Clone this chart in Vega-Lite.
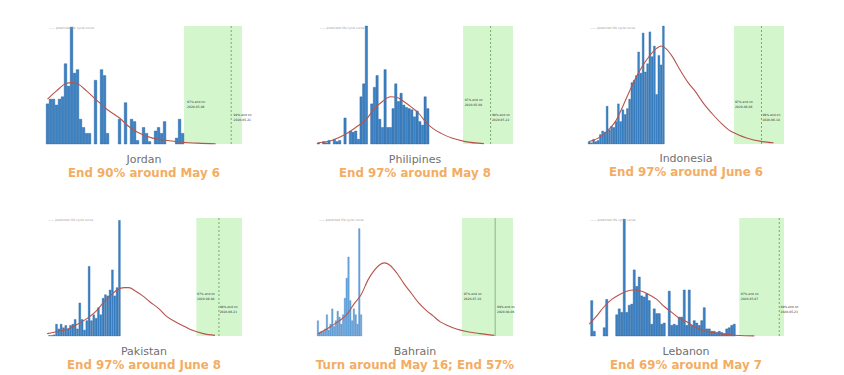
{
"$schema":"https://vega.github.io/schema/vega-lite/v6.json",
"background":"white",
"padding":{"left":44,"top":25,"right":0,"bottom":0},
"bounds":"flush",
"spacing":192,
"config":{
 "view":{"stroke":null},
 "font":"DejaVu Sans",
 "scale":{"continuousPadding":0},
 "title":{"orient":"bottom","anchor":"middle","offset":8,"fontSize":11,"fontWeight":"normal","color":"#707070","subtitleFontSize":11.8,"subtitleFontWeight":"bold","subtitleColor":"#f3ad63","subtitlePadding":3,"font":"DejaVu Sans","subtitleFont":"DejaVu Sans"},
 "axisY":{"labelFontSize":3.5,"titleFontSize":3.5,"titleFontWeight":"normal","tickSize":2,"tickWidth":0.5,"domainColor":"#bbbbbb","domainWidth":0.6,"tickColor":"#aaaaaa","labelColor":"#666666","titleColor":"#666666","labelPadding":1,"titlePadding":2,"grid":false},
 "axisX":{"labels":false,"ticks":false,"domain":false,"grid":true,"gridColor":"#ececec","gridWidth":0.7,"tickCount":5},
 "rect":{"color":"#d3f6cd"},
 "rule":{"color":"#5b9b57","strokeDash":[2,2],"strokeWidth":0.8},
 "line":{"interpolate":"monotone","color":"#b8544c","strokeWidth":1.1},
 "bar":{"color":"#3b82c4","stroke":"#1f5c9a","strokeWidth":0.4},
 "text":{"fontSize":3,"align":"left","color":"#333333"}
},
"vconcat":[
{"hconcat":[
{"width":196,"height":118,
 "title":{"text":"Jordan","subtitle":"End 90% around May 6"},
 "layer":[
  {"data":{"values":[{"d":45.5,"d2":64.8}]},"mark":"rect","encoding":{"x":{"field":"d","type":"quantitative","scale":{"domain":[-0.5,64.8],"nice":false,"zero":false,"padding":0},"axis":null},"x2":{"field":"d2"}}},
  {"data":{"values":[{"d":61.2}]},"mark":"rule","encoding":{"x":{"field":"d","type":"quantitative","axis":null}}},
  {"data":{"values":[{"d":0,"v":34},{"d":1,"v":38},{"d":2,"v":38},{"d":3,"v":33},{"d":4,"v":38},{"d":5,"v":40},{"d":6,"v":68},{"d":7,"v":49},{"d":8,"v":99},{"d":9,"v":60},{"d":10,"v":63},{"d":11,"v":21},{"d":12,"v":14},{"d":13,"v":9},{"d":14,"v":9},{"d":16,"v":54},{"d":18,"v":63},{"d":19,"v":58},{"d":20,"v":9},{"d":24,"v":21},{"d":26,"v":35},{"d":28,"v":21},{"d":29,"v":19},{"d":30,"v":3},{"d":32,"v":14},{"d":33,"v":9},{"d":34,"v":2},{"d":36,"v":11},{"d":37,"v":14},{"d":38,"v":9},{"d":39,"v":19},{"d":43,"v":5},{"d":44,"v":21},{"d":45,"v":9}]},"mark":{"type":"bar","width":2.6},
   "encoding":{"x":{"field":"d","type":"quantitative","scale":{"padding":0},"axis":{"title":null}},"y":{"field":"v","type":"quantitative","scale":{"domain":[0,100],"nice":false},"axis":{"title":"New Cases","values":[13.4,26.8,40.2,53.6,67,80.4,93.8],"labelExpr":"format(round(datum.value/13.4)*5,'d')"}}}},
  {"data":{"values":[{"d":0,"v":38},{"d":3,"v":45},{"d":6,"v":51},{"d":8,"v":52},{"d":10,"v":51},{"d":13,"v":45},{"d":16,"v":38},{"d":20,"v":29},{"d":24,"v":22},{"d":27,"v":15},{"d":30,"v":10},{"d":35,"v":5},{"d":40,"v":3},{"d":45,"v":1.5},{"d":50,"v":0.7},{"d":56,"v":0.2}]},"mark":"line","encoding":{"x":{"field":"d","type":"quantitative","axis":null},"y":{"field":"v","type":"quantitative","axis":null}}},
  {"data":{"values":[{"d":46.5,"v":36,"label":["97% end on","2020-05-06"]},{"d":62,"v":25,"label":["99% end on","2020-05-21"]}]},"mark":"text","encoding":{"x":{"field":"d","type":"quantitative","axis":null},"y":{"field":"v","type":"quantitative","axis":null},"text":{"field":"label"}}},
  {"data":{"values":[{"label":"—— predicted life cycle curve"}]},"mark":{"type":"text","baseline":"top","color":"#999999"},"encoding":{"x":{"datum":0.5,"axis":null},"y":{"datum":99.5,"axis":null},"text":{"field":"label"}}}
 ]},
{"width":196,"height":118,
 "title":{"text":"Philipines","subtitle":"End 97% around May 8"},
 "layer":[
  {"data":{"values":[{"d":54.2,"d2":72.9}]},"mark":"rect","encoding":{"x":{"field":"d","type":"quantitative","scale":{"domain":[-0.5,72.9],"nice":false,"zero":false,"padding":0},"axis":null},"x2":{"field":"d2"}}},
  {"data":{"values":[{"d":64.5}]},"mark":"rule","encoding":{"x":{"field":"d","type":"quantitative","axis":null}}},
  {"data":{"values":[{"d":0,"v":1},{"d":2,"v":2},{"d":3,"v":1},{"d":4,"v":3},{"d":6,"v":4},{"d":7,"v":2},{"d":8,"v":3},{"d":10,"v":22},{"d":12,"v":11},{"d":13,"v":10},{"d":14,"v":11},{"d":15,"v":4},{"d":16,"v":40},{"d":17,"v":51},{"d":18,"v":100},{"d":20,"v":34},{"d":21,"v":48},{"d":22,"v":58},{"d":23,"v":21},{"d":24,"v":14},{"d":25,"v":63},{"d":26,"v":14},{"d":27,"v":14},{"d":28,"v":30},{"d":29,"v":51},{"d":30,"v":36},{"d":31,"v":43},{"d":32,"v":33},{"d":33,"v":31},{"d":34,"v":30},{"d":35,"v":29},{"d":36,"v":23},{"d":37,"v":28},{"d":38,"v":19},{"d":39,"v":16},{"d":40,"v":40},{"d":41,"v":30}]},"mark":{"type":"bar","width":2.3},
   "encoding":{"x":{"field":"d","type":"quantitative","scale":{"padding":0},"axis":{"title":null}},"y":{"field":"v","type":"quantitative","scale":{"domain":[0,100],"nice":false},"axis":{"title":"New Cases","values":[15.3,30.6,45.9,61.2,76.5,91.8],"labelExpr":"format(round(datum.value/15.3)*100,'d')"}}}},
  {"data":{"values":[{"d":0,"v":1},{"d":5,"v":3},{"d":10,"v":8},{"d":14,"v":14},{"d":18,"v":21},{"d":21,"v":30},{"d":24,"v":36},{"d":27,"v":40},{"d":30,"v":39},{"d":32,"v":36},{"d":35,"v":31},{"d":38,"v":25},{"d":40,"v":19},{"d":43,"v":13},{"d":46,"v":9},{"d":50,"v":5},{"d":55,"v":2},{"d":62,"v":0.3}]},"mark":"line","encoding":{"x":{"field":"d","type":"quantitative","axis":null},"y":{"field":"v","type":"quantitative","axis":null}}},
  {"data":{"values":[{"d":54.8,"v":37,"label":["97% end on","2020-05-08"]},{"d":65,"v":25,"label":["99% end on","2020-05-22"]}]},"mark":"text","encoding":{"x":{"field":"d","type":"quantitative","axis":null},"y":{"field":"v","type":"quantitative","axis":null},"text":{"field":"label"}}},
  {"data":{"values":[{"label":"—— predicted life cycle curve"}]},"mark":{"type":"text","baseline":"top","color":"#999999"},"encoding":{"x":{"datum":0.5,"axis":null},"y":{"datum":99.5,"axis":null},"text":{"field":"label"}}}
 ]},
{"width":196,"height":118,
 "title":{"text":"Indonesia","subtitle":"End 97% around June 6"},
 "layer":[
  {"data":{"values":[{"d":64.4,"d2":86.6}]},"mark":"rect","encoding":{"x":{"field":"d","type":"quantitative","scale":{"domain":[-0.5,86.6],"nice":false,"zero":false,"padding":0},"axis":null},"x2":{"field":"d2"}}},
  {"data":{"values":[{"d":76.6}]},"mark":"rule","encoding":{"x":{"field":"d","type":"quantitative","axis":null}}},
  {"data":{"values":[{"d":0,"v":2},{"d":1,"v":1},{"d":2,"v":4},{"d":3,"v":2},{"d":4,"v":3},{"d":5,"v":8},{"d":6,"v":11},{"d":7,"v":10},{"d":8,"v":32},{"d":9,"v":12},{"d":10,"v":15},{"d":11,"v":14},{"d":12,"v":19},{"d":13,"v":34},{"d":14,"v":19},{"d":15,"v":29},{"d":16,"v":25},{"d":17,"v":30},{"d":18,"v":38},{"d":19,"v":52},{"d":20,"v":54},{"d":21,"v":58},{"d":22,"v":78},{"d":23,"v":60},{"d":24,"v":94},{"d":25,"v":61},{"d":26,"v":68},{"d":27,"v":95},{"d":28,"v":74},{"d":29,"v":83},{"d":30,"v":42},{"d":31,"v":75},{"d":32,"v":67},{"d":33,"v":100}]},"mark":{"type":"bar","width":1.9,"strokeWidth":0.3},
   "encoding":{"x":{"field":"d","type":"quantitative","scale":{"padding":0},"axis":{"title":null}},"y":{"field":"v","type":"quantitative","scale":{"domain":[0,100],"nice":false},"axis":{"title":"New Cases","values":[12,24,36,48,60,72,84,96],"labelExpr":"format(round(datum.value/12)*50,'d')"}}}},
  {"data":{"values":[{"d":0,"v":2},{"d":4,"v":5},{"d":8,"v":11},{"d":12,"v":20},{"d":15,"v":32},{"d":18,"v":45},{"d":21,"v":57},{"d":24,"v":67},{"d":27,"v":75},{"d":30,"v":81},{"d":32,"v":83},{"d":34,"v":81},{"d":37,"v":74},{"d":40,"v":64},{"d":44,"v":52},{"d":47,"v":45},{"d":51,"v":34},{"d":55,"v":25},{"d":59,"v":17},{"d":62,"v":12},{"d":66,"v":8},{"d":70,"v":5},{"d":77,"v":2},{"d":82,"v":1}]},"mark":"line","encoding":{"x":{"field":"d","type":"quantitative","axis":null},"y":{"field":"v","type":"quantitative","axis":null}}},
  {"data":{"values":[{"d":64.8,"v":36,"label":["97% end on","2020-06-06"]},{"d":77,"v":25,"label":["99% end on","2020-06-18"]}]},"mark":"text","encoding":{"x":{"field":"d","type":"quantitative","axis":null},"y":{"field":"v","type":"quantitative","axis":null},"text":{"field":"label"}}},
  {"data":{"values":[{"label":"—— predicted life cycle curve"}]},"mark":{"type":"text","baseline":"top","color":"#999999"},"encoding":{"x":{"datum":0.5,"axis":null},"y":{"datum":99.5,"axis":null},"text":{"field":"label"}}}
 ]}
],"spacing":75,"bounds":"flush"},
{"hconcat":[
{"width":196,"height":118,
 "title":{"text":"Pakistan","subtitle":"End 97% around June 8"},
 "layer":[
  {"data":{"values":[{"d":64,"d2":83.6}]},"mark":"rect","encoding":{"x":{"field":"d","type":"quantitative","scale":{"domain":[-0.5,83.6],"nice":false,"zero":false,"padding":0},"axis":null},"x2":{"field":"d2"}}},
  {"data":{"values":[{"d":73.7}]},"mark":"rule","encoding":{"x":{"field":"d","type":"quantitative","axis":null}}},
  {"data":{"values":[{"d":1,"v":0.5},{"d":2,"v":0.5},{"d":3,"v":1},{"d":4,"v":10},{"d":5,"v":6},{"d":6,"v":10},{"d":7,"v":7},{"d":8,"v":9},{"d":9,"v":6},{"d":10,"v":9},{"d":11,"v":10},{"d":12,"v":14},{"d":13,"v":6},{"d":14,"v":28},{"d":15,"v":14},{"d":16,"v":5},{"d":17,"v":13},{"d":18,"v":59},{"d":19,"v":13},{"d":20,"v":18},{"d":21,"v":15},{"d":22,"v":24},{"d":23,"v":18},{"d":24,"v":32},{"d":25,"v":35},{"d":26,"v":34},{"d":27,"v":39},{"d":28,"v":56},{"d":29,"v":34},{"d":30,"v":41},{"d":31,"v":98}]},"mark":{"type":"bar","width":1.9,"strokeWidth":0.3},
   "encoding":{"x":{"field":"d","type":"quantitative","scale":{"padding":0},"axis":{"title":null}},"y":{"field":"v","type":"quantitative","scale":{"domain":[0,100],"nice":false},"axis":{"title":"New Cases","values":[35.7,71.4],"labelExpr":"format(round(datum.value/35.7)*500,'d')"}}}},
  {"data":{"values":[{"d":0,"v":2},{"d":5,"v":4},{"d":9,"v":6},{"d":13,"v":10},{"d":18,"v":16},{"d":21,"v":21},{"d":24,"v":28},{"d":27,"v":34},{"d":30,"v":39},{"d":33,"v":41},{"d":35,"v":41},{"d":38,"v":38},{"d":41,"v":34},{"d":44,"v":29},{"d":48,"v":23},{"d":51,"v":17},{"d":55,"v":12},{"d":59,"v":8},{"d":62,"v":5},{"d":67,"v":2},{"d":72,"v":0.5}]},"mark":"line","encoding":{"x":{"field":"d","type":"quantitative","axis":null},"y":{"field":"v","type":"quantitative","axis":null}}},
  {"data":{"values":[{"d":64.3,"v":36,"label":["97% end on","2020-06-08"]},{"d":74,"v":25,"label":["99% end on","2020-06-21"]}]},"mark":"text","encoding":{"x":{"field":"d","type":"quantitative","axis":null},"y":{"field":"v","type":"quantitative","axis":null},"text":{"field":"label"}}},
  {"data":{"values":[{"label":"—— predicted life cycle curve"}]},"mark":{"type":"text","baseline":"top","color":"#999999"},"encoding":{"x":{"datum":0.5,"axis":null},"y":{"datum":99.5,"axis":null},"text":{"field":"label"}}}
 ]},
{"width":196,"height":118,
 "title":{"text":"Bahrain","subtitle":"Turn around May 16; End 57%"},
 "layer":[
  {"data":{"values":[{"d":80,"d2":108.4}]},"mark":"rect","encoding":{"x":{"field":"d","type":"quantitative","scale":{"domain":[-0.5,108.4],"nice":false,"zero":false,"padding":0},"axis":null},"x2":{"field":"d2"}}},
  {"data":{"values":[{"d":98.5}]},"mark":{"type":"rule","strokeDash":[],"color":"#7aa876"},"encoding":{"x":{"field":"d","type":"quantitative","axis":null}}},
  {"data":{"values":[{"d":0,"v":13},{"d":1,"v":3},{"d":2,"v":4},{"d":3,"v":4},{"d":4,"v":6},{"d":5,"v":18},{"d":6,"v":5},{"d":7,"v":10},{"d":8,"v":23},{"d":9,"v":8},{"d":10,"v":13},{"d":11,"v":21},{"d":12,"v":16},{"d":13,"v":10},{"d":14,"v":18},{"d":15,"v":32},{"d":16,"v":49},{"d":17,"v":67},{"d":18,"v":30},{"d":19,"v":13},{"d":20,"v":23},{"d":21,"v":18},{"d":22,"v":10},{"d":23,"v":91},{"d":24,"v":18}]},"mark":{"type":"bar","width":1.5,"color":"#6aa7de","stroke":"#3f7fbf","strokeWidth":0.3},
   "encoding":{"x":{"field":"d","type":"quantitative","scale":{"padding":0},"axis":{"title":null}},"y":{"field":"v","type":"quantitative","scale":{"domain":[0,100],"nice":false},"axis":{"title":"New Cases","values":[13.4,28.6,43.8,59,74.2,89.4],"labelExpr":"format(round(datum.value/15.2)*10,'d')"}}}},
  {"data":{"values":[{"d":0,"v":2},{"d":4,"v":5},{"d":8,"v":9},{"d":12,"v":13},{"d":16,"v":18},{"d":20,"v":27},{"d":24,"v":35},{"d":28,"v":48},{"d":31,"v":55},{"d":34,"v":60},{"d":37,"v":62},{"d":40,"v":60},{"d":44,"v":53},{"d":48,"v":44},{"d":52,"v":36},{"d":56,"v":28},{"d":60,"v":22},{"d":64,"v":17},{"d":68,"v":12},{"d":72,"v":9},{"d":77,"v":6},{"d":82,"v":4},{"d":90,"v":2},{"d":98,"v":0.5}]},"mark":"line","encoding":{"x":{"field":"d","type":"quantitative","axis":null},"y":{"field":"v","type":"quantitative","axis":null}}},
  {"data":{"values":[{"d":81,"v":36,"label":["97% end on","2020-07-10"]},{"d":99.5,"v":25,"label":["99% end on","2020-08-06"]}]},"mark":"text","encoding":{"x":{"field":"d","type":"quantitative","axis":null},"y":{"field":"v","type":"quantitative","axis":null},"text":{"field":"label"}}},
  {"data":{"values":[{"label":"—— predicted life cycle curve"}]},"mark":{"type":"text","baseline":"top","color":"#999999"},"encoding":{"x":{"datum":0.5,"axis":null},"y":{"datum":99.5,"axis":null},"text":{"field":"label"}}}
 ]},
{"width":196,"height":118,
 "title":{"text":"Lebanon","subtitle":"End 69% around May 7"},
 "layer":[
  {"data":{"values":[{"d":60,"d2":77.9}]},"mark":"rect","encoding":{"x":{"field":"d","type":"quantitative","scale":{"domain":[-0.5,77.9],"nice":false,"zero":false,"padding":0},"axis":null},"x2":{"field":"d2"}}},
  {"data":{"values":[{"d":76}]},"mark":"rule","encoding":{"x":{"field":"d","type":"quantitative","axis":null}}},
  {"data":{"values":[{"d":1,"v":30},{"d":2,"v":4},{"d":6,"v":7},{"d":7,"v":31},{"d":11,"v":18},{"d":12,"v":23},{"d":13,"v":20},{"d":14,"v":99},{"d":15,"v":20},{"d":16,"v":26},{"d":17,"v":27},{"d":18,"v":56},{"d":19,"v":42},{"d":20,"v":50},{"d":21,"v":34},{"d":22,"v":33},{"d":23,"v":36},{"d":24,"v":30},{"d":25,"v":10},{"d":26,"v":23},{"d":27,"v":19},{"d":28,"v":19},{"d":29,"v":10},{"d":30,"v":11},{"d":32,"v":38},{"d":33,"v":9},{"d":34,"v":10},{"d":35,"v":9},{"d":36,"v":16},{"d":37,"v":16},{"d":38,"v":39},{"d":39,"v":9},{"d":40,"v":39},{"d":41,"v":9},{"d":42,"v":13},{"d":43,"v":11},{"d":44,"v":9},{"d":45,"v":13},{"d":46,"v":24},{"d":47,"v":6},{"d":48,"v":6},{"d":49,"v":4},{"d":50,"v":4},{"d":51,"v":3},{"d":52,"v":4},{"d":53,"v":3},{"d":54,"v":2},{"d":55,"v":6},{"d":56,"v":7},{"d":57,"v":9},{"d":58,"v":10}]},"mark":{"type":"bar","width":2.1},
   "encoding":{"x":{"field":"d","type":"quantitative","scale":{"padding":0},"axis":{"title":null}},"y":{"field":"v","type":"quantitative","scale":{"domain":[0,100],"nice":false},"axis":{"title":"New Cases","values":[13.4,28.6,43.8,59,74.2,89.4],"labelExpr":"format(round(datum.value/15.2)*5,'d')"}}}},
  {"data":{"values":[{"d":0,"v":10},{"d":3,"v":17},{"d":6,"v":25},{"d":9,"v":31},{"d":12,"v":35},{"d":15,"v":38},{"d":18,"v":39},{"d":21,"v":38},{"d":24,"v":35},{"d":27,"v":31},{"d":30,"v":25},{"d":33,"v":20},{"d":36,"v":15},{"d":39,"v":12},{"d":42,"v":8},{"d":45,"v":5},{"d":48,"v":3.5},{"d":52,"v":2},{"d":56,"v":1},{"d":60,"v":0.4},{"d":66,"v":0.1}]},"mark":"line","encoding":{"x":{"field":"d","type":"quantitative","axis":null},"y":{"field":"v","type":"quantitative","axis":null}}},
  {"data":{"values":[{"d":60.6,"v":36,"label":["97% end on","2020-05-07"]},{"d":76.5,"v":25,"label":["99% end on","2020-05-23"]}]},"mark":"text","encoding":{"x":{"field":"d","type":"quantitative","axis":null},"y":{"field":"v","type":"quantitative","axis":null},"text":{"field":"label"}}},
  {"data":{"values":[{"label":"—— predicted life cycle curve"}]},"mark":{"type":"text","baseline":"top","color":"#999999"},"encoding":{"x":{"datum":0.5,"axis":null},"y":{"datum":99.5,"axis":null},"text":{"field":"label"}}}
 ]}
],"spacing":75,"bounds":"flush"}
]
}
